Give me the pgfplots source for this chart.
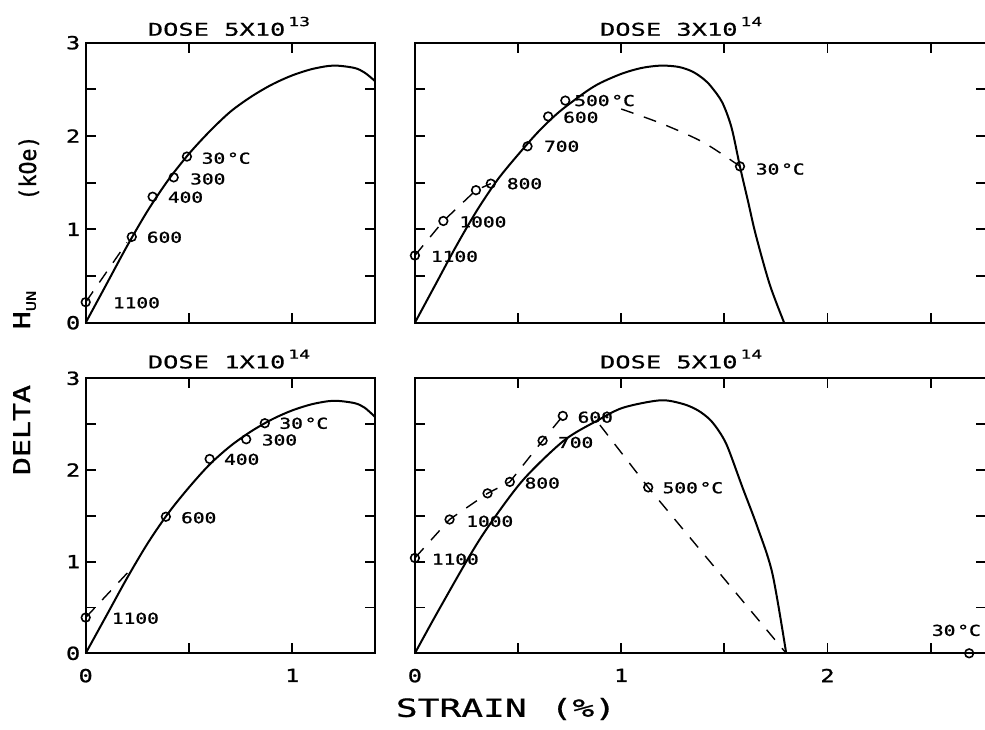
\documentclass[border=0pt]{standalone}
\usepackage{fontspec}
\usepackage{graphicx}
\setmainfont{DejaVu Sans Mono}[FakeStretch=1.3, FakeBold=1.2]
\newfontfamily\wide{DejaVu Sans Mono}[FakeStretch=1.45, FakeBold=0.7]
\usepackage{pgfplots}
\pgfplotsset{compat=1.18}
\newcommand{\lbl}{\fontsize{15}{15}\selectfont}
\newcommand{\ttl}[2]{\wide\fontsize{17.5}{17.5}\selectfont DOSE #1X10\,\raisebox{0.55em}{\fontsize{12.5}{12.5}\selectfont #2}}
\newcommand{\degC}{\hspace{0.12em}°C}
\pgfplotsset{
  panel/.style={scale only axis, clip=false,
    axis line style={line width=2pt},
    every tick/.style={line width=1.8pt, black},
    major tick length=10pt, minor tick length=10pt, tick align=inside,
    ymin=0, ymax=3, ytick={0,1,2,3}, minor ytick={0.5,1.5,2.5},
    xmin=0,
    tick label style={font=\fontsize{18}{18}\selectfont},
    xticklabel style={yshift=-12pt},
    yticklabel style={xshift=-2pt},
    title style={anchor=base},
  },
  curve/.style={line width=2pt, smooth, tension=0.5, black},
  dsh/.style={line width=1.4pt, black, dash pattern=on 13pt off 11pt},
  pts/.style={only marks, mark=o, mark size=4.3pt, black, mark options={solid, line width=1.6pt}},
}
\begin{document}
\begin{tikzpicture}
\useasboundingbox (0,0) rectangle (985pt,-729pt);
% ---------- top left: dose 5e13
\begin{axis}[panel, at={(85.7pt,-322.7pt)}, anchor=south west,
  width=289.2pt, height=280pt, xmax=1.4,
  xtick={0,1}, minor xtick={0.5}, xticklabels={},
  yticklabels={0,1,2,3},
  title={\ttl{5}{13}}, title style={at={(0.4955,1)}, yshift=1pt}]
\addplot[curve] coordinates {(0,0)(0.1,0.41)(0.2,0.82)(0.3,1.2)(0.4,1.53)(0.5,1.81)(0.6,2.05)(0.7,2.26)(0.8,2.42)(0.9,2.55)(1.0,2.65)(1.1,2.72)(1.2,2.755)(1.3,2.73)(1.35,2.68)(1.4,2.59)};
\addplot[dsh] coordinates {(0,0.22)(0.2,0.86)};
\addplot[pts] coordinates {(0,0.22)(0.223,0.92)(0.324,1.35)(0.426,1.557)(0.49,1.78)};
\node[anchor=west, inner sep=0, font=\lbl] at (axis cs:0.561,1.762) {30\degC};
\node[anchor=west, inner sep=0, font=\lbl] at (axis cs:0.505,1.54) {300};
\node[anchor=west, inner sep=0, font=\lbl] at (axis cs:0.397,1.344) {400};
\node[anchor=west, inner sep=0, font=\lbl] at (axis cs:0.295,0.915) {600};
\node[anchor=west, inner sep=0, font=\lbl] at (axis cs:0.131,0.214) {1100};
\end{axis}
% ---------- top right: dose 3e14
\begin{axis}[panel, at={(414.9pt,-322.7pt)}, anchor=south west,
  width=571.4pt, height=280pt, xmax=2.77,
  xtick={0,1,2}, minor xtick={0.5,1.5,2.5}, xticklabels={},
  yticklabels={},
  title={\ttl{3}{14}}, title style={at={(0.466,1)}, yshift=1pt}]
\addplot[curve] coordinates {(0,0)(0.1,0.41)(0.2,0.82)(0.3,1.2)(0.4,1.53)(0.5,1.8)(0.6,2.05)(0.7,2.26)(0.826,2.47)(0.9,2.57)(1.005,2.67)(1.1,2.73)(1.194,2.755)(1.28,2.74)(1.346,2.69)(1.4,2.61)(1.436,2.53)(1.49,2.36)(1.535,2.09)(1.576,1.67)(1.615,1.3)(1.652,0.945)(1.72,0.41)(1.79,0)};
\addplot[dsh] coordinates {(0,0.72)(0.138,1.09)(0.296,1.42)(0.368,1.49)};
\addplot[dsh, smooth] coordinates {(1.0,2.29)(1.2,2.13)(1.4,1.93)(1.576,1.675)};
\addplot[pts] coordinates {(0,0.72)(0.138,1.09)(0.296,1.42)(0.368,1.49)(0.546,1.89)(0.646,2.21)(0.729,2.38)(1.576,1.675)};
\node[anchor=west, inner sep=0, font=\lbl] at (axis cs:0.772,2.38) {500\degC};
\node[anchor=west, inner sep=0, font=\lbl] at (axis cs:0.718,2.2) {600};
\node[anchor=west, inner sep=0, font=\lbl] at (axis cs:0.625,1.89) {700};
\node[anchor=west, inner sep=0, font=\lbl] at (axis cs:0.445,1.49) {800};
\node[anchor=west, inner sep=0, font=\lbl] at (axis cs:0.215,1.08) {1000};
\node[anchor=west, inner sep=0, font=\lbl] at (axis cs:0.077,0.71) {1100};
\node[anchor=west, inner sep=0, font=\lbl] at (axis cs:1.652,1.646) {30\degC};
\end{axis}
% ---------- bottom left: dose 1e14
\begin{axis}[panel, at={(85.7pt,-653.3pt)}, anchor=south west,
  width=289.2pt, height=275pt, xmax=1.4,
  xtick={0,1}, minor xtick={0.5}, xticklabels={0,1},
  yticklabels={0,1,2,3},
  title={\ttl{1}{14}}, title style={at={(0.4955,1)}, yshift=4pt}]
\addplot[curve] coordinates {(0,0)(0.1,0.41)(0.2,0.82)(0.3,1.2)(0.4,1.53)(0.5,1.81)(0.6,2.06)(0.7,2.26)(0.8,2.42)(0.9,2.55)(1.0,2.65)(1.1,2.72)(1.2,2.755)(1.3,2.73)(1.35,2.68)(1.4,2.58)};
\addplot[dsh] coordinates {(0,0.39)(0.23,0.945)};
\addplot[pts] coordinates {(0,0.39)(0.388,1.49)(0.6,2.12)(0.777,2.335)(0.867,2.51)};
\node[anchor=west, inner sep=0, font=\lbl] at (axis cs:0.937,2.509) {30\degC};
\node[anchor=west, inner sep=0, font=\lbl] at (axis cs:0.852,2.327) {300};
\node[anchor=west, inner sep=0, font=\lbl] at (axis cs:0.669,2.116) {400};
\node[anchor=west, inner sep=0, font=\lbl] at (axis cs:0.461,1.479) {600};
\node[anchor=west, inner sep=0, font=\lbl] at (axis cs:0.126,0.382) {1100};
\end{axis}
% ---------- bottom right: dose 5e14
\begin{axis}[panel, at={(414.9pt,-653.3pt)}, anchor=south west,
  width=571.4pt, height=275pt, xmax=2.77,
  xtick={0,1,2}, minor xtick={0.5,1.5,2.5}, xticklabels={0,1,2},
  yticklabels={},
  title={\ttl{5}{14}}, title style={at={(0.466,1)}, yshift=4pt}]
\addplot[curve] coordinates {(0,0)(0.1,0.41)(0.262,1.05)(0.361,1.40)(0.524,1.89)(0.722,2.32)(0.885,2.54)(1.01,2.68)(1.19,2.76)(1.3,2.72)(1.372,2.65)(1.43,2.55)(1.475,2.42)(1.516,2.25)(1.588,1.81)(1.66,1.38)(1.733,0.87)(1.8,0)};
\addplot[dsh] coordinates {(0,1.04)(0.168,1.46)(0.352,1.745)(0.46,1.87)(0.619,2.32)(0.717,2.59)};
\addplot[dsh] coordinates {(0.897,2.49)(1.131,1.81)(1.8,0)};
\addplot[pts] coordinates {(0,1.04)(0.168,1.46)(0.352,1.745)(0.46,1.87)(0.619,2.32)(0.717,2.59)(1.131,1.81)(2.687,0)};
\node[anchor=west, inner sep=0, font=\lbl] at (axis cs:0.788,2.575) {600};
\node[anchor=west, inner sep=0, font=\lbl] at (axis cs:0.693,2.30) {700};
\node[anchor=west, inner sep=0, font=\lbl] at (axis cs:0.531,1.857) {800};
\node[anchor=west, inner sep=0, font=\lbl] at (axis cs:0.248,1.44) {1000};
\node[anchor=west, inner sep=0, font=\lbl] at (axis cs:0.081,1.026) {1100};
\node[anchor=west, inner sep=0, font=\lbl] at (axis cs:1.2,1.806) {500\degC};
\node[inner sep=0, font=\lbl] at (axis cs:2.625,0.25) {30\degC};
\end{axis}
% ---------- axis labels
\node[font=\wide\fontsize{25}{25}\selectfont] at (506pt,-709pt) {STRAIN\hspace{2pt} (\%)};
\begin{scope}[every node/.style={rotate=90, anchor=base, font=\fontsize{23}{23}\selectfont}]
\node at (30pt,-430pt) {DELTA};
\node at (30pt,-310pt) {H\raisebox{-0.25em}{\fontsize{13}{13}\selectfont UN}};
\node at (36pt,-168pt) {\scalebox{0.72}[1]{(kOe)}};
\end{scope}
\end{tikzpicture}
\end{document}
